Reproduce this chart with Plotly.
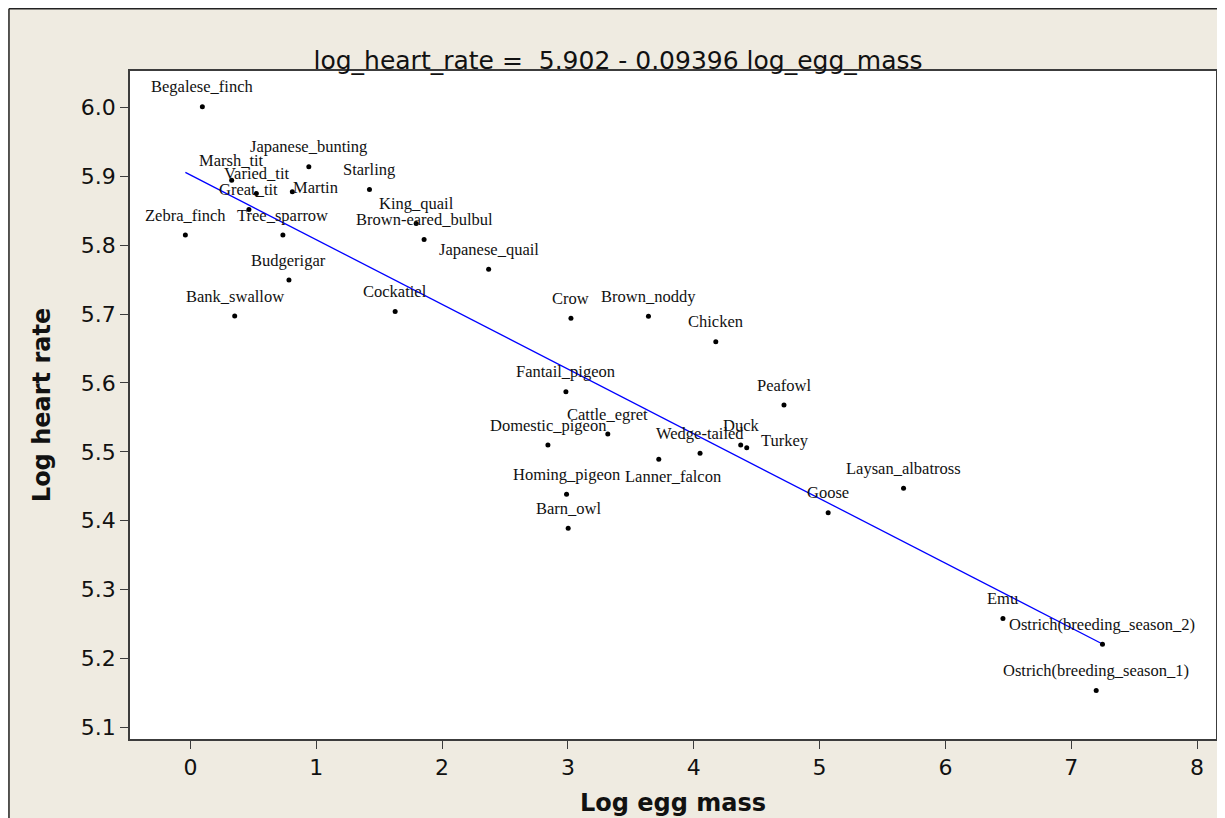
import plotly.graph_objects as go

# ---------------- data ----------------
birds = [
    "Begalese_finch", "Marsh_tit", "Varied_tit", "Great_tit", "Martin",
    "Japanese_bunting", "Starling", "King_quail", "Brown-eared_bulbul",
    "Japanese_quail", "Zebra_finch", "Tree_sparrow", "Budgerigar",
    "Bank_swallow", "Cockatiel", "Crow", "Brown_noddy", "Chicken",
    "Fantail_pigeon", "Peafowl", "Cattle_egret", "Domestic_pigeon",
    "Wedge-tailed", "Lanner_falcon", "Duck", "Turkey", "Homing_pigeon",
    "Barn_owl", "Goose", "Laysan_albatross", "Emu",
    "Ostrich(breeding_season_2)", "Ostrich(breeding_season_1)",
]
log_egg_mass = [
    0.095, 0.328, 0.524, 0.465, 0.810,
    0.941, 1.423, 1.794, 1.857,
    2.370, -0.040, 0.735, 0.783,
    0.352, 1.627, 3.024, 3.640, 4.175,
    2.984, 4.717, 3.317, 2.841,
    4.050, 3.722, 4.373, 4.421, 2.989,
    3.002, 5.068, 5.667, 6.457,
    7.248, 7.198,
]
log_heart_rate = [
    6.001, 5.8945, 5.875, 5.852, 5.8775,
    5.9138, 5.881, 5.8316, 5.8084,
    5.7653, 5.8147, 5.8147, 5.7494,
    5.6971, 5.7039, 5.6938, 5.697, 5.6598,
    5.5872, 5.568, 5.5258, 5.5099,
    5.4978, 5.4891, 5.5099, 5.5060, 5.4383,
    5.389, 5.4116, 5.447, 5.2578,
    5.2206, 5.1533,
]
intercept = 5.902
slope = -0.09396
x_ticks = [0, 1, 2, 3, 4, 5, 6, 7, 8]
y_ticks = [5.1, 5.2, 5.3, 5.4, 5.5, 5.6, 5.7, 5.8, 5.9, 6.0]
title_text = "log_heart_rate =  5.902 - 0.09396 log_egg_mass"
x_title = "Log egg mass"
y_title = "Log heart rate"

# ---------------- style / layout ----------------
# page has an 8px body margin, so the figure is 8px smaller than the window
W, H = 1217, 810
L, R, T, B = 122, 7, 63, 79
PW, PH = W - L - R, H - T - B
PAPER_BG = "#EFEBE1"
FRAME = "#3c3c3c"
TEXT = "#111111"
DEFAULT_SHIFT = (0, 20)
LABEL_SHIFT = {"Martin": (23, 4), "Lanner_falcon": (14, -17), "Turkey": (38, 7)}


def px_x(p):
    return (p - L) / PW


def px_y(p):
    return (H - B - p) / PH


fig = go.Figure()

xmin, xmax = min(log_egg_mass), max(log_egg_mass)
fig.add_trace(go.Scatter(
    x=[xmin, xmax], y=[intercept + slope * xmin, intercept + slope * xmax],
    mode="lines", line=dict(color="#0000FF", width=1.3),
    hoverinfo="skip", showlegend=False,
))
fig.add_trace(go.Scatter(
    x=log_egg_mass, y=log_heart_rate, mode="markers",
    marker=dict(color="black", size=5),
    text=birds, showlegend=False,
))

for name, xv, yv in zip(birds, log_egg_mass, log_heart_rate):
    dx, dy = LABEL_SHIFT.get(name, DEFAULT_SHIFT)
    fig.add_annotation(
        x=xv, y=yv, text=name, showarrow=False,
        xanchor="center", yanchor="middle", xshift=dx, yshift=dy,
        font=dict(family="Liberation Serif", size=16.5, color=TEXT),
    )

# axis titles
fig.add_annotation(
    xref="paper", yref="paper", x=0.5, y=px_y(795),
    text=x_title, showarrow=False, xanchor="center", yanchor="middle",
    font=dict(family="DejaVu Sans", size=24, color=TEXT, weight="bold"),
)
fig.add_annotation(
    xref="paper", yref="paper", x=px_x(34), y=0.5,
    text=y_title, showarrow=False, textangle=-90, xanchor="center", yanchor="middle",
    font=dict(family="DejaVu Sans", size=24, color=TEXT, weight="bold"),
)

# outer border (top and left visible)
bx = px_x(0.75)
by = px_y(0.75)
fig.add_shape(type="line", xref="paper", yref="paper", x0=bx, x1=bx, y0=-0.3, y1=by,
              line=dict(color="#222222", width=1.5))
fig.add_shape(type="line", xref="paper", yref="paper", x0=bx, x1=1.3, y0=by, y1=by,
              line=dict(color="#222222", width=1.5))

axis_common = dict(
    showline=True, mirror=True, linecolor=FRAME, linewidth=1.5,
    ticks="outside", ticklen=8, tickwidth=1.3, tickcolor=FRAME,
    showgrid=False, zeroline=False,
    tickfont=dict(family="DejaVu Sans", size=22, color=TEXT),
)
fig.update_xaxes(range=[-0.48, 8.15], tickvals=x_ticks, **axis_common)
fig.update_yaxes(range=[5.083, 6.053], tickvals=y_ticks, tickformat=".1f", **axis_common)

fig.update_layout(
    width=W, height=H,
    margin=dict(l=L, r=R, t=T, b=B),
    paper_bgcolor=PAPER_BG, plot_bgcolor="white",
    title=dict(text=title_text, x=610 / W, xanchor="center", y=1 - 52 / H, yanchor="middle",
               font=dict(family="DejaVu Sans", size=25, color=TEXT)),
)

fig.write_html("out.html")
